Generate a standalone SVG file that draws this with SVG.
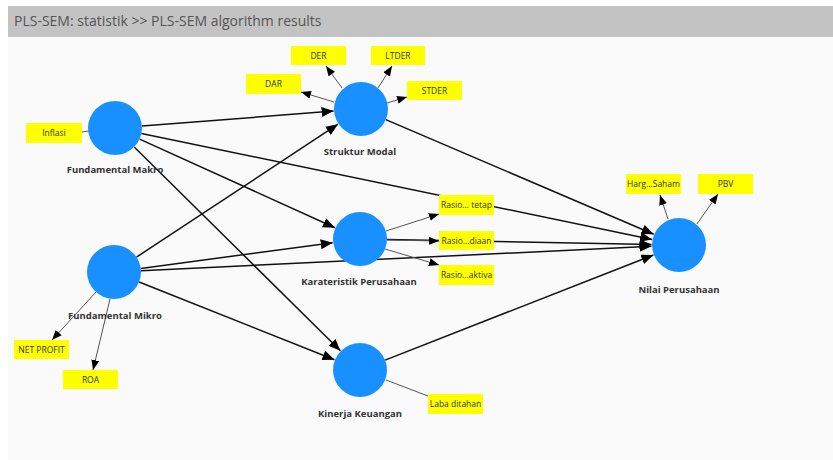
<svg xmlns="http://www.w3.org/2000/svg" width="833" height="460" viewBox="0 0 833 460">
<style>
.hdr{font-family:"Open Sans","Liberation Sans",sans-serif;font-size:14px;fill:#555}
.node{fill:#1890ff}
.lbl{font-family:"Open Sans","Liberation Sans",sans-serif;font-size:9.5px;font-weight:bold;fill:#333;text-anchor:middle}
.ind rect{fill:#ffff00}
.ind text{font-family:"Open Sans","Liberation Sans",sans-serif;font-size:8.5px;fill:#333;text-anchor:middle}
.path{stroke:#111;stroke-width:1.5;fill:none;marker-end:url(#ah)}
.il{stroke:#555;stroke-width:1;fill:none;marker-end:url(#ai)}
.il0{stroke:#555;stroke-width:1;fill:none}
</style>
<defs>
<marker id="ah" markerUnits="userSpaceOnUse" markerWidth="12" markerHeight="10" viewBox="0 0 12 10" refX="12" refY="5" orient="auto"><path d="M0,0 L12,5 L0,10 z" fill="#000"/></marker>
<marker id="ai" markerUnits="userSpaceOnUse" markerWidth="10" markerHeight="8" viewBox="0 0 10 8" refX="10" refY="4" orient="auto"><path d="M0,0 L10,4 L0,8 z" fill="#000"/></marker>
</defs>
<rect x="0" y="0" width="833" height="460" fill="#ffffff"/>
<rect x="8" y="37" width="825" height="423" fill="#fafafa"/>
<rect x="8" y="6" width="825" height="31" fill="#c3c3c3"/>
<text class="hdr" x="14" y="26">PLS-SEM: statistik &gt;&gt; PLS-SEM algorithm results</text>

<g id="connectors">
<line class="path" x1="142" y1="126" x2="333.6" y2="111.1"/>
<line class="path" x1="141.4" y1="133.5" x2="652.1" y2="239.4"/>
<line class="path" x1="139.6" y1="139.1" x2="335" y2="227.7"/>
<line class="path" x1="134.2" y1="147" x2="340.4" y2="350.7"/>
<line class="path" x1="136.5" y1="257.1" x2="338" y2="124.2"/>
<line class="path" x1="140.8" y1="268.4" x2="332.7" y2="242.7"/>
<line class="path" x1="141" y1="270.7" x2="651.5" y2="246.3"/>
<line class="path" x1="139.1" y1="282" x2="334.5" y2="359.8"/>
<line class="path" x1="385.8" y1="119.6" x2="653.7" y2="234.2"/>
<line class="path" x1="387" y1="239.5" x2="651.5" y2="244.5"/>
<line class="path" x1="385.1" y1="360.1" x2="653.4" y2="255"/>
<line class="il" x1="342" y1="88" x2="326" y2="66"/>
<line class="il" x1="378" y1="88" x2="392" y2="66"/>
<line class="il" x1="334" y1="102" x2="301" y2="92"/>
<line class="il" x1="387" y1="103" x2="407" y2="97"/>
<line class="il0" x1="89" y1="131" x2="82" y2="132"/>
<line class="il" x1="96" y1="292" x2="52" y2="340"/>
<line class="il" x1="110" y1="299" x2="93" y2="370"/>
<line class="il" x1="386" y1="231" x2="439" y2="214"/>
<line class="il" x1="387" y1="240" x2="439" y2="241"/>
<line class="il" x1="385" y1="249" x2="439" y2="265"/>
<line class="il0" x1="386" y1="380" x2="428" y2="396"/>
<line class="il" x1="668" y1="219" x2="660" y2="195"/>
<line class="il" x1="697" y1="224" x2="718" y2="194"/>
</g>

<g id="fundamental-makro"><circle class="node" cx="115" cy="128" r="27"/><text class="lbl" x="115" y="173">Fundamental Makro</text></g>
<g id="fundamental-mikro"><circle class="node" cx="114" cy="272" r="27"/><text class="lbl" x="115" y="319">Fundamental Mikro</text></g>
<g id="struktur-modal"><circle class="node" cx="361" cy="109" r="27"/><text class="lbl" x="360" y="155">Struktur Modal</text></g>
<g id="karateristik-perusahaan"><circle class="node" cx="360" cy="239" r="27"/><text class="lbl" x="359" y="285">Karateristik Perusahaan</text></g>
<g id="kinerja-keuangan"><circle class="node" cx="360" cy="370" r="27"/><text class="lbl" x="360" y="417">Kinerja Keuangan</text></g>
<g id="nilai-perusahaan"><circle class="node" cx="679" cy="245" r="27"/><text class="lbl" x="679" y="293">Nilai Perusahaan</text></g>

<g id="ind-der" class="ind"><rect x="291" y="46" width="55" height="19"/><text x="318.5" y="58.5">DER</text></g>
<g id="ind-ltder" class="ind"><rect x="371" y="46" width="54" height="19"/><text x="398" y="58.5">LTDER</text></g>
<g id="ind-dar" class="ind"><rect x="246" y="74" width="55" height="20"/><text x="273.5" y="87">DAR</text></g>
<g id="ind-stder" class="ind"><rect x="407" y="81" width="55" height="19"/><text x="434.5" y="93.5">STDER</text></g>
<g id="ind-inflasi" class="ind"><rect x="26" y="123" width="56" height="20"/><text x="54" y="136">Inflasi</text></g>
<g id="ind-netprofit" class="ind"><rect x="14" y="340" width="55" height="19"/><text x="41.5" y="352.5">NET PROFIT</text></g>
<g id="ind-roa" class="ind"><rect x="63" y="370" width="55" height="19"/><text x="90.5" y="382.5">ROA</text></g>
<g id="ind-rasio-tetap" class="ind"><rect x="439" y="195" width="55" height="20"/><text x="466.5" y="208">Rasio… tetap</text></g>
<g id="ind-rasio-diaan" class="ind"><rect x="439" y="231" width="55" height="19"/><text x="466.5" y="243.5">Rasio…diaan</text></g>
<g id="ind-rasio-aktiva" class="ind"><rect x="439" y="265" width="55" height="20"/><text x="466.5" y="278">Rasio…aktiva</text></g>
<g id="ind-laba" class="ind"><rect x="428" y="394" width="55" height="20"/><text x="455.5" y="407">Laba ditahan</text></g>
<g id="ind-harga" class="ind"><rect x="626" y="174" width="55" height="20"/><text x="653.5" y="187">Harg…Saham</text></g>
<g id="ind-pbv" class="ind"><rect x="698" y="174" width="55" height="20"/><text x="725.5" y="187">PBV</text></g>
</svg>
